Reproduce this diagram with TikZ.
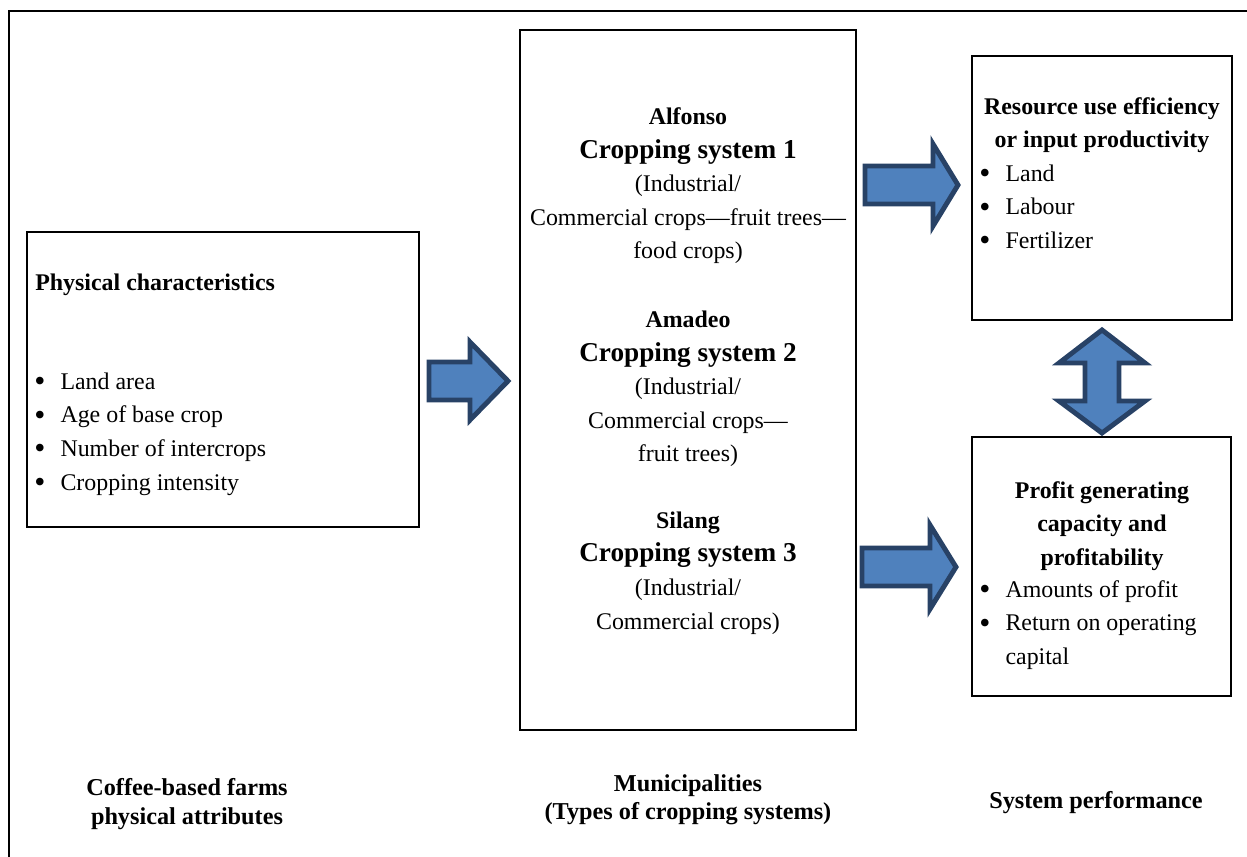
\documentclass[tikz,border=0pt]{standalone}
\usepackage{fontspec}
\setmainfont{Liberation Serif}
\usetikzlibrary{fit}
\definecolor{arrowfill}{RGB}{79,129,189}
\definecolor{arrowline}{RGB}{40,66,102}
\tikzset{
  box/.style={draw, line width=0.9pt, inner sep=0pt},
  fatarrow/.style={fill=arrowfill, draw=arrowline, line width=2.8pt},
  body/.style={font=\fontsize{13.6}{19.1}\selectfont, inner sep=0pt},
  heading/.style={font=\fontsize{13.6}{19.1}\selectfont\bfseries, inner sep=0pt},
  caption/.style={font=\fontsize{13.8}{16.2}\selectfont\bfseries, inner sep=0pt, align=center},
}
\newcommand{\bigsys}[1]{{\fontsize{15.5}{19.1}\selectfont\bfseries #1}}
\newcommand{\bul}{\raisebox{-1.4pt}{\fontsize{18}{19.1}\selectfont\textbullet}}
\begin{document}
\begin{tikzpicture}[x=0.02cm,y=-0.02cm]
  \clip (0,0) rectangle (1247,856);
  % outer frame, runs off the page on the right and at the bottom
  \draw [line width=1.2pt] (9,870) -- (9,11) -- (1260,11);

  % boxes
  \node [box, fit={(27,232) (419,527)}] (phys) {};
  \node [box, fit={(520,30) (856,730)}] (sys) {};
  \node [box, fit={(972,56) (1232,320)}] (res) {};
  \node [box, fit={(972,437) (1231,696)}] (prof) {};

  % physical characteristics
  \node [heading, anchor=west] (physhead) at (35,285) {Physical characteristics};
  \node [body, anchor=west] (physlist) at (34,433) {%
    \begin{tabular}{@{}l@{\hspace{8.6pt}}l@{}}
      \bul & Land area\\
      \bul & Age of base crop\\
      \bul & Number of intercrops\\
      \bul & Cropping intensity
    \end{tabular}};

  % cropping systems
  \node [body, align=center] (sysone) at (688,186) {%
    \textbf{Alfonso}\\ \bigsys{Cropping system 1}\\ (Industrial/\\
    Commercial crops---fruit trees---\\ food crops)};
  \node [body, align=center] (systwo) at (688,389) {%
    \textbf{Amadeo}\\ \bigsys{Cropping system 2}\\ (Industrial/\\
    Commercial crops---\\ fruit trees)};
  \node [body, align=center] (systhree) at (688,573) {%
    \textbf{Silang}\\ \bigsys{Cropping system 3}\\ (Industrial/\\
    Commercial crops)};

  % system performance
  \node [heading, align=center] (reshead) at (1102,125) {Resource use efficiency\\ or input productivity};
  \node [body, anchor=west] (reslist) at (979,208) {%
    \begin{tabular}{@{}l@{\hspace{8.6pt}}l@{}}
      \bul & Land\\
      \bul & Labour\\
      \bul & Fertilizer
    \end{tabular}};
  \node [heading, align=center] (profhead) at (1102,526) {Profit generating\\ capacity and\\ profitability};
  \node [body, anchor=west] (proflist) at (979,624) {%
    \begin{tabular}{@{}l@{\hspace{8.6pt}}l@{}}
      \bul & Amounts of profit\\
      \bul & Return on operating\\
           & capital
    \end{tabular}};

  % block arrows
  \draw [fatarrow] (429,362) -- (470,362) -- (470,342) -- (508,381) -- (470,420)
    -- (470,400) -- (429,400) -- cycle;
  \draw [fatarrow] (865,166) -- (933,166) -- (933,144) -- (958,185) -- (933,226)
    -- (933,204) -- (865,204) -- cycle;
  \draw [fatarrow] (862,548) -- (930,548) -- (930,525) -- (956,567) -- (930,609)
    -- (930,586) -- (862,586) -- cycle;
  \draw [fatarrow] (1102,330) -- (1145,363) -- (1119,363) -- (1119,401) -- (1145,401)
    -- (1102,433) -- (1059,401) -- (1085,401) -- (1085,363) -- (1059,363) -- cycle;

  % captions
  \node [caption] (capfarm) at (187,804) {Coffee-based farms\\ physical attributes};
  \node [caption] (capmun) at (688,800) {Municipalities\\ (Types of cropping systems)};
  \node [caption] (capperf) at (1096,803) {System performance};
\end{tikzpicture}
\end{document}
